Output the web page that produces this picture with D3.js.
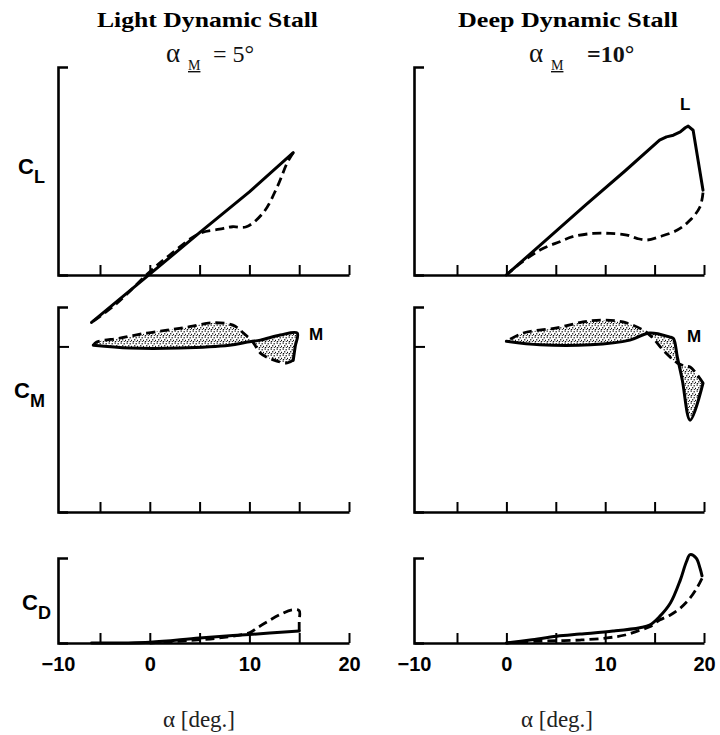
<!DOCTYPE html>
<html><head><meta charset="utf-8">
<script src="https://cdn.jsdelivr.net/npm/d3@7"></script>
<style>
body{margin:0;background:#fff}svg{display:block}
.serif{font-family:"Liberation Serif","Times New Roman",Times,serif}
.sans{font-family:"Liberation Sans",Arial,Helvetica,sans-serif}
</style>
</head><body>
<svg id="c" width="720" height="735"></svg>
<script>
// ---------------- data ----------------
const columnTitles = ["Light Dynamic Stall", "Deep Dynamic Stall"];
const meanAngleLabels = ["= 5°", "=10°"];
const xTickValues = [-5, 0, 5, 10, 15, 20];
const xTickLabels = [-10, 0, 10, 20];
const xAxisLabel = "α [deg.]";

// Lift coefficient (solid = upstroke, dashed = downstroke)  [alpha, value]
const lightCLUp = [[-6,-0.57],[0,0.01],[5,0.51],[10,1.0],[14.4,1.47]];
const lightCLDown = [[14.4,1.47],[13.8,1.35],[12.8,1.06],[11.4,0.75],[9.7,0.58],[8.3,0.58],[7.0,0.55],[5.0,0.50],[2.0,0.24],[0,0.04],[-3.3,-0.34],[-6,-0.57]];
const deepCLUp = [[0,0],[4,0.42],[8,0.84],[12,1.25],[15.5,1.62],[16.2,1.66],[16.9,1.68],[17.6,1.72],[18.1,1.77],[18.4,1.79],[18.9,1.74],[19.9,1.02]];
const deepCLDown = [[19.9,0.99],[19.6,0.82],[18.6,0.66],[17.3,0.54],[15.5,0.46],[14.2,0.42],[13.2,0.44],[12.2,0.48],[10.5,0.50],[8.8,0.50],[6.7,0.46],[5.4,0.40],[3.4,0.30],[1.4,0.14],[0,0]];

// Moment coefficient
const lightCMUp = [[-5.8,0.003],[-2,-0.004],[3,-0.004],[8,0.003],[9.8,0.011],[11.1,0.016],[13.1,0.029],[14.8,0.034],[14.6,0.0],[14.4,-0.035]];
const lightCMDown = [[14.4,-0.035],[13.8,-0.042],[12.4,-0.034],[11.1,-0.017],[10.4,0.009],[9.4,0.034],[8.35,0.054],[6.35,0.06],[4.0,0.05],[2.0,0.042],[-0.3,0.034],[-3,0.021],[-5.4,0.011],[-5.8,0.003]];
const deepCMUp = [[0,0.013],[3.4,0.004],[8.5,0.004],[12.5,0.016],[14.5,0.034],[16.5,0.024],[16.9,0.02],[17.3,-0.027],[17.8,-0.085],[18.6,-0.187],[19.9,-0.093]];
const deepCMDown = [[19.9,-0.093],[18.6,-0.052],[18.1,-0.05],[17.3,-0.042],[15.85,-0.009],[14.84,0.021],[13.8,0.042],[11.8,0.062],[9.8,0.067],[7.75,0.062],[5.1,0.047],[1.7,0.034],[0,0.013]];

// Drag coefficient
const lightCDUp = [[-6,0.0],[0,0.01],[5,0.06],[10,0.10],[15,0.14]];
const lightCDDown = [[15,0.14],[15,0.26],[15,0.38],[14.3,0.39],[13,0.33],[11.8,0.25],[10.8,0.18],[10,0.12],[7,0.06],[4,0.03],[0,0.0]];
const deepCDUp = [[0,0],[2.4,0.035],[5.1,0.08],[7.45,0.105],[10.8,0.14],[13.5,0.18],[14.5,0.21],[15.5,0.31],[16.6,0.47],[17.6,0.74],[18.2,0.95],[18.6,1.04],[19.2,1.0],[19.6,0.88],[19.8,0.79]];
const deepCDDown = [[19.8,0.76],[19.3,0.65],[18.6,0.53],[17.6,0.41],[16.6,0.33],[15.5,0.27],[14.5,0.19],[13.5,0.15],[12,0.094],[10.2,0.06],[7.45,0.035],[4.1,0.024],[1.4,0.012],[0,0]];

// ---------------- layout ----------------
const svg = d3.select("#c");

// stipple pattern
const defs = svg.append("defs");
const pat = defs.append("pattern").attr("id","stipple").attr("patternUnits","userSpaceOnUse")
  .attr("width",6).attr("height",6);
[[0.5,0.5],[3.5,1.2],[2,3.2],[5,3.8],[0.8,5],[3.8,5.2]].forEach(p=>pat.append("rect").attr("x",p[0]).attr("y",p[1]).attr("width",1.4).attr("height",1.2).attr("fill","#111"));

const xScales = [
  d3.scaleLinear().domain([-10,-5,20]).range([58,100,349]),
  d3.scaleLinear().domain([-10,-5,20]).range([414,457,704])
];
const rows = [
  {y: d3.scaleLinear().domain([0,2.5]).range([275,67]), ticks: [], data:[[lightCLUp,lightCLDown],[deepCLUp,deepCLDown]], fill:false, solidCurve: d3.curveLinear},
  {y: d3.scaleLinear().domain([-0.42,0.1]).range([512,307]), ticks: [0], data:[[lightCMUp,lightCMDown],[deepCMUp,deepCMDown]], fill:true, solidCurve: d3.curveCatmullRom.alpha(0.5)},
  {y: d3.scaleLinear().domain([0,1]).range([643,558]), ticks: [], data:[[lightCDUp,lightCDDown],[deepCDUp,deepCDDown]], fill:false, solidCurve: d3.curveCatmullRom.alpha(0.5)}
];

rows.forEach((row, ri) => {
  xScales.forEach((x, ci) => {
    const g = svg.append("g");
    const y = row.y;
    const y0 = y.range()[0];
    // x axis (ticks pointing up)
    const xa = g.append("g").attr("transform",`translate(0,${y0})`)
      .call(d3.axisBottom(x).tickValues(xTickValues).tickSizeInner(-10).tickSizeOuter(0).tickFormat(""));
    xa.select(".domain").attr("stroke","#000").attr("stroke-width",2.6);
    xa.selectAll(".tick line").attr("stroke","#000").attr("stroke-width",2);
    // y axis (caps / ticks pointing right)
    const ya = g.append("g").attr("transform",`translate(${x(-10)},0)`)
      .call(d3.axisRight(y).tickValues(row.ticks).tickSizeInner(11).tickSizeOuter(10).tickFormat(""));
    ya.select(".domain").attr("stroke","#000").attr("stroke-width",2.6).attr("fill","none");
    ya.selectAll(".tick line").attr("stroke","#000").attr("stroke-width",2);

    const [up, down] = row.data[ci];
    const line = d3.line().x(d=>x(d[0])).y(d=>y(d[1])).curve(d3.curveCatmullRom.alpha(0.5));
    const solidLine = d3.line().x(d=>x(d[0])).y(d=>y(d[1])).curve(row.solidCurve);
    if (row.fill) {
      g.append("path").attr("d", line(up.concat(down)) + "Z")
        .attr("fill","url(#stipple)").attr("fill-rule","evenodd").attr("stroke","none");
    }
    g.append("path").attr("d", solidLine(up)).attr("fill","none").attr("stroke","#000")
      .attr("stroke-width",3).attr("stroke-linejoin","round").attr("stroke-linecap","round");
    g.append("path").attr("d", line(down)).attr("fill","none").attr("stroke","#000")
      .attr("stroke-width",2.8).attr("stroke-dasharray","9,5").attr("stroke-linejoin","round");

    if (ri === 2) {
      const la = g.append("g").attr("transform",`translate(0,${y0})`)
        .call(d3.axisBottom(x).tickValues(xTickLabels).tickSize(0).tickPadding(14).tickFormat(d3.format("d")));
      la.select(".domain").remove();
      la.selectAll("text").attr("class","sans").attr("font-family",null).attr("font-weight","bold").attr("font-size",20).attr("fill","#000");
      svg.append("text").attr("class","serif").attr("x", ci===0 ? 199 : 557).attr("y",727).attr("text-anchor","middle")
        .attr("font-size",23).attr("fill","#222").text(xAxisLabel);
    }
  });
});

// titles
columnTitles.forEach((t,i)=>{
  svg.append("text").attr("class","serif").attr("x", i===0?207.5:568).attr("y",27).attr("text-anchor","middle")
    .attr("font-weight","bold").attr("font-size",22)
    .attr("textLength",i===0?221:220).attr("lengthAdjust","spacingAndGlyphs").text(t);
});
meanAngleLabels.forEach((t,i)=>{
  const x0 = i===0 ? 166 : 529;
  const tx = svg.append("text").attr("class","serif").attr("x",x0).attr("y",62).attr("font-size",27).attr("fill","#111");
  tx.append("tspan").text("α");
  tx.append("tspan").attr("x", x0+22).attr("dy",8).attr("font-size",14).attr("text-decoration","underline").text("M");
  tx.append("tspan").attr("x", i===0 ? 213 : 587).attr("dy",-8).attr("font-size",24)
    .attr("font-weight", i===0 ? "normal" : "bold").text(t);
});

// y labels
function coefLabel(x, yb, sub) {
  const t = svg.append("text").attr("class","sans").attr("x",x).attr("y",yb).attr("font-weight","bold").attr("font-size",22);
  t.append("tspan").text("C");
  t.append("tspan").attr("dy",9).attr("font-size",18).text(sub);
}
coefLabel(18,174,"L");
coefLabel(14,398,"M");
coefLabel(22,610,"D");

// curve markers
[["L",680,110],["M",309,340],["M",687,342]].forEach(d=>{
  svg.append("text").attr("class","sans").attr("x",d[1]).attr("y",d[2]).attr("font-weight","bold").attr("font-size",17).text(d[0]);
});
</script>
</body></html>
